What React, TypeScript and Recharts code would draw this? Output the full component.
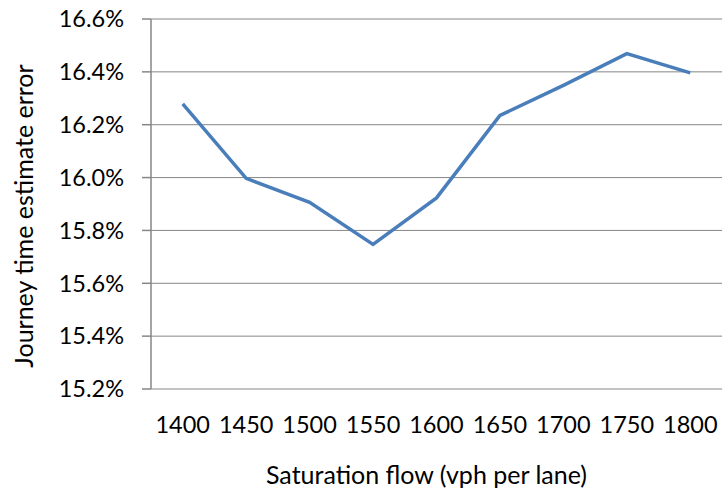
import { CartesianGrid, Label, Line, LineChart, XAxis, YAxis } from 'recharts';

// saturation flow (vph per lane)
const SAT_FLOW = [1400, 1450, 1500, 1550, 1600, 1650, 1700, 1750, 1800];
// journey time estimate error (%)
const JT_ERROR = [16.279, 15.997, 15.906, 15.747, 15.923, 16.235, 16.349, 16.469, 16.396];
const Y_TICKS = [15.2, 15.4, 15.6, 15.8, 16.0, 16.2, 16.4, 16.6];
// tick marks sit between categories, like the Excel original
const EDGE_TICKS = [1375, 1425, 1475, 1525, 1575, 1625, 1675, 1725, 1775, 1825];

const data = SAT_FLOW.map((sat, i) => ({ sat, err: JT_ERROR[i] }));

const FONT = 'Lato, "Open Sans", sans-serif';
const GRAY = '#868686';

export default function App() {
  return (
    <div style={{ position: 'absolute', left: 0, top: 0, width: 726, height: 493, background: '#fff' }}>
      <LineChart
        width={726}
        height={493}
        data={data}
        margin={{ top: 19, right: 4, bottom: 0, left: 0 }}
        style={{ fontFamily: FONT }}
      >
        <CartesianGrid vertical={false} stroke={GRAY} strokeWidth={1} />
        <XAxis
          xAxisId="edges"
          dataKey="sat"
          type="number"
          domain={[1375, 1825]}
          ticks={EDGE_TICKS}
          height={0}
          axisLine={{ stroke: GRAY, strokeWidth: 1.5 }}
          tickLine={{ stroke: GRAY, strokeWidth: 1.5 }}
          tickSize={8}
          tickFormatter={() => ''}
        />
        <XAxis
          dataKey="sat"
          type="number"
          domain={[1375, 1825]}
          ticks={SAT_FLOW}
          height={104}
          axisLine={false}
          tickLine={false}
          tickSize={0}
          tickMargin={27}
          tick={{ fill: '#000', fontSize: 23.5 }}
        >
          <Label
            value="Saturation flow (vph per lane)"
            position="insideBottom"
            offset={9}
            dx={-10}
            style={{ fill: '#000', fontSize: 25 }}
          />
        </XAxis>
        <YAxis
          width={151}
          domain={[15.2, 16.6]}
          ticks={Y_TICKS}
          axisLine={{ stroke: GRAY, strokeWidth: 1.5 }}
          tickLine={{ stroke: GRAY, strokeWidth: 1.5 }}
          tickSize={9}
          tickMargin={18}
          tick={{ fill: '#000', fontSize: 23.5 }}
          tickFormatter={(v: number) => v.toFixed(1) + '%'}
        >
          <Label
            value="Journey time estimate error"
            angle={-90}
            position="insideLeft"
            offset={24}
            dy={12}
            style={{ fill: '#000', fontSize: 25, textAnchor: 'middle' }}
          />
        </YAxis>
        <Line
          type="linear"
          dataKey="err"
          stroke="#4a7ebb"
          strokeWidth={3.5}
          dot={false}
          isAnimationActive={false}
        />
      </LineChart>
    </div>
  );
}
